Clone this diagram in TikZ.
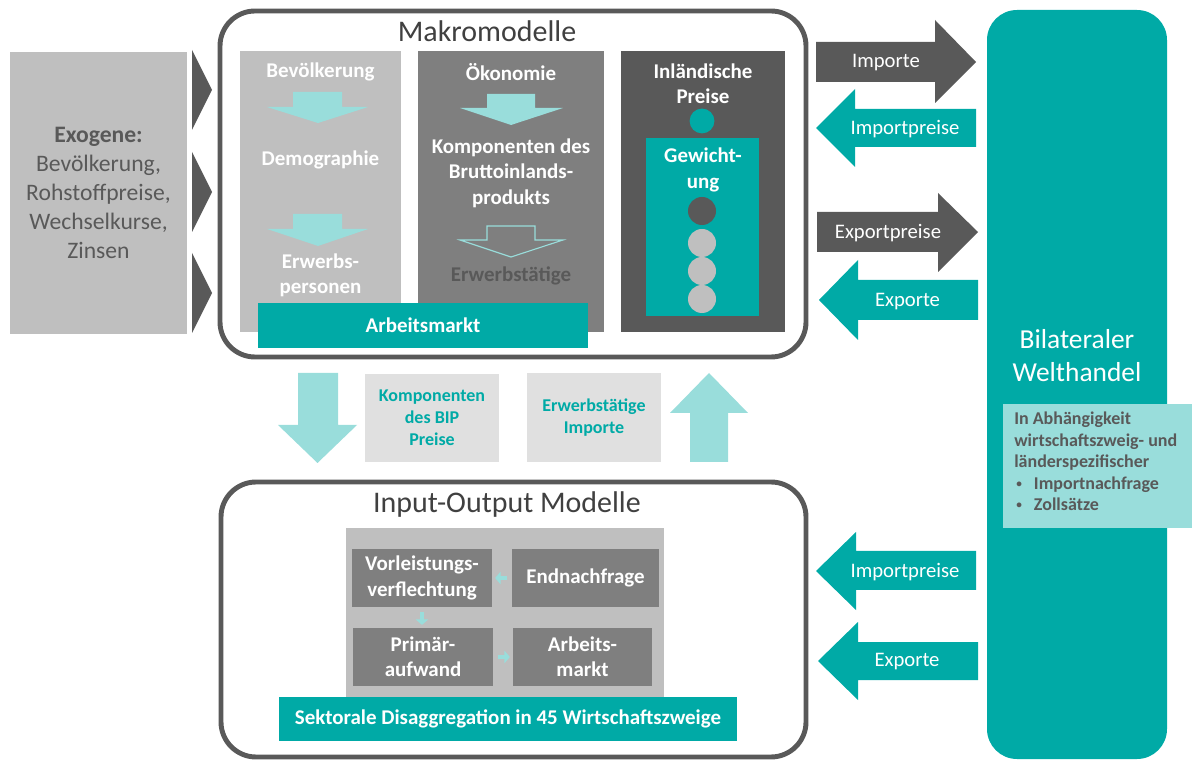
\documentclass[tikz,border=0pt]{standalone}
\usepackage{fontspec}
\setmainfont{Carlito}
\usetikzlibrary{positioning,arrows.meta}

\definecolor{tuerkis}{RGB}{0,170,166}
\definecolor{hellTuerkis}{RGB}{153,221,219}
\definecolor{dunkelgrau}{RGB}{89,89,89}
\definecolor{mittelgrau}{RGB}{127,127,127}
\definecolor{hellgrau}{RGB}{191,191,191}
\definecolor{blassgrau}{RGB}{224,224,224}
\definecolor{titelgrau}{RGB}{64,64,64}

\newcommand{\punkt}{\makebox[14pt][l]{\hspace{1.4pt}\raisebox{1.2pt}{\fontsize{8}{8}\selectfont•}}}

\tikzset{
	rahmen/.style={draw=dunkelgrau,line width=3.5pt,rounded corners=0.875cm},
	titel/.style={text=titelgrau,font=\fontsize{21.3}{25}\selectfont},
	fett/.style={text=white,font=\bfseries\fontsize{14.9}{18}\selectfont,align=center,inner sep=0pt},
	klein/.style={text=tuerkis,font=\bfseries\fontsize{12.8}{15.6}\selectfont,align=center,inner sep=0pt},
	pfeiltext/.style={text=white,font=\fontsize{14.7}{17}\selectfont,inner sep=0pt},
	feld/.style={fill=mittelgrau,inner sep=0pt,minimum height=1.45cm},
	kleinpfeil/.style={draw=hellTuerkis,line width=3.5pt,-{Triangle[width=9pt,length=4pt]}},
}

\begin{document}
\begin{tikzpicture}[x=0.025cm,y=-0.025cm]
		\useasboundingbox (0,0) rectangle (1192,760);
		% Exogene
		\node[fill=hellgrau,minimum width=4.425cm,minimum height=7.025cm,align=center,text=dunkelgrau,font=\fontsize{16.8}{20.5}\selectfont] (exo) at (98.5,193) {\textbf{Exogene:}\\Bevölkerung,\\Rohstoffpreise,\\Wechselkurse,\\Zinsen};
		\foreach \y in {90,192,293}
			\fill[dunkelgrau] (192,\y-40) -- (212,\y) -- (192,\y+40) -- cycle;
		% Makromodelle
		\draw[rahmen] (220,11) rectangle (806,357);
		\node[titel] (makro) at (487,31) {Makromodelle};
		\fill[hellgrau] (240,51) rectangle (401,332);
		\fill[mittelgrau] (418,51) rectangle (604,332);
		\fill[dunkelgrau] (621,51) rectangle (785,332);
		\fill[tuerkis] (646,138) rectangle (759,316);
		\node[fett] (bev) at (320.5,72) {Bevölkerung};
		\node[fett] (demo) at (320.5,160) {Demographie};
		\node[fett] (erwp) at (320.5,275) {Erwerbs-\\personen};
		\fill[hellTuerkis] (293,92) -- (342,92) -- (342,107) -- (368,107) -- (318,123) -- (267,107) -- (293,107) -- cycle;
		\fill[hellTuerkis] (293,214) -- (342,214) -- (342,229) -- (368,229) -- (318,246) -- (267,229) -- (293,229) -- cycle;
		\node[fett] (oeko) at (511,72) {Ökonomie};
		\node[fett] (bip) at (511,173) {Komponenten des\\Bruttoinlands-\\produkts};
		\node[fett,text=dunkelgrau] (erwt) at (511,276) {Erwerbstätige};
		\fill[hellTuerkis] (487,94) -- (535,94) -- (535,108) -- (563,108) -- (511,125) -- (460,108) -- (487,108) -- cycle;
		\draw[hellTuerkis,line width=0.8pt] (487,226) -- (535,226) -- (535,240) -- (563,240) -- (511,257) -- (460,240) -- (487,240) -- cycle;
		\node[fett] (preise) at (703,84) {Inländische\\Preise};
		\node[fett] (gew) at (703,170) {Gewicht-\\ung};
		\fill[tuerkis] (702,121) circle[radius=0.31cm];
		\fill[dunkelgrau] (702,211) circle[radius=0.35cm];
		\foreach \y in {243,271,299}
			\fill[hellgrau] (702,\y) circle[radius=0.35cm];
		\node[fill=tuerkis,fett,minimum width=8.25cm,minimum height=1.125cm] (markt) at (423,325.5) {Arbeitsmarkt};
		% Austausch
		\fill[hellTuerkis] (298,373) -- (338,373) -- (338,425) -- (357,425) -- (317.5,463) -- (278,425) -- (298,425) -- cycle;
		\fill[hellTuerkis] (690,462) -- (728,462) -- (728,413) -- (748,413) -- (709,373) -- (670,413) -- (690,413) -- cycle;
		\node[fill=blassgrau,klein,minimum width=3.35cm,minimum height=2.2cm] (bipPreise) at (432,418) {Komponenten\\des BIP\\Preise};
		\node[fill=blassgrau,klein,minimum width=3.35cm,minimum height=2.225cm] (erwImp) at (594,417.5) {Erwerbstätige\\Importe};
		% Input-Output
		\draw[rahmen] (221,482) rectangle (806,757);
		\node[titel] (io) at (507,505) {Input-Output Modelle};
		\fill[hellgrau] (346,528) rectangle (664,697);
		\node[feld,fett,minimum width=3.5cm] (vorl) at (422,578) {Vorleistungs-\\verflechtung};
		\node[feld,fett,minimum width=3.65cm] (endn) at (585.5,578) {Endnachfrage};
		\node[feld,fett,minimum width=3.5cm] (prim) at (423,657) {Primär-\\aufwand};
		\node[feld,fett,minimum width=3.475cm] (amarkt) at (582.5,657) {Arbeits-\\markt};
		\draw[kleinpfeil,shorten <=3.5pt,shorten >=2pt] (endn.west) -- (vorl.east);
		\draw[kleinpfeil,shorten <=3.5pt,shorten >=2pt] (vorl.south) -- (vorl.south |- prim.north);
		\draw[kleinpfeil,shorten <=3.5pt,shorten >=2pt] (prim.east) -- (amarkt.west);
		\node[fill=tuerkis,fett,minimum width=11.45cm,minimum height=1.1cm] (sektor) at (508,719) {Sektorale Disaggregation in 45 Wirtschaftszweige};
		% Welthandel
		\fill[tuerkis,rounded corners=0.75cm] (987,10) rectangle (1167,759);
		\node[text=white,align=center,font=\fontsize{19.5}{23.4}\selectfont] (welt) at (1077,355.5) {Bilateraler\\Welthandel};
		\fill[hellTuerkis] (1003,404) rectangle (1192,528);
		\node[anchor=north west,inner sep=0pt,align=left,text=dunkelgrau,font=\bfseries\fontsize{12.8}{15.2}\selectfont] (info) at (1014,412) {In Abhängigkeit\\wirtschaftszweig- und\\länderspezifischer\\\punkt Importnachfrage\\\punkt Zollsätze};
		% Handelspfeile
		\fill[dunkelgrau] (816,42) -- (935,42) -- (935,20) -- (976,62) -- (935,103) -- (935,82) -- (816,82) -- cycle;
		\node[pfeiltext] (imp) at (886,63) {Importe};
		\fill[tuerkis] (816,128) -- (855,89) -- (855,109) -- (976,109) -- (976,147) -- (855,147) -- (855,167) -- cycle;
		\node[pfeiltext] (impPreise) at (905,129) {Importpreise};
		\fill[dunkelgrau] (817,212) -- (938,212) -- (938,193) -- (978,232) -- (938,272) -- (938,252) -- (817,252) -- cycle;
		\node[pfeiltext] (expPreise) at (888,233) {Exportpreise};
		\fill[tuerkis] (819,300) -- (858,260) -- (858,280) -- (978,280) -- (978,320) -- (858,320) -- (858,340) -- cycle;
		\node[pfeiltext] (exp) at (907.5,302) {Exporte};
		\fill[tuerkis] (816,571) -- (856,532) -- (856,551) -- (976,551) -- (976,590) -- (856,590) -- (856,610) -- cycle;
		\node[pfeiltext] (impPreiseIO) at (905,572) {Importpreise};
		\fill[tuerkis] (818,661) -- (858,622) -- (858,642) -- (978,642) -- (978,680) -- (858,680) -- (858,700) -- cycle;
		\node[pfeiltext] (expIO) at (907,662) {Exporte};
\end{tikzpicture}
\end{document}
